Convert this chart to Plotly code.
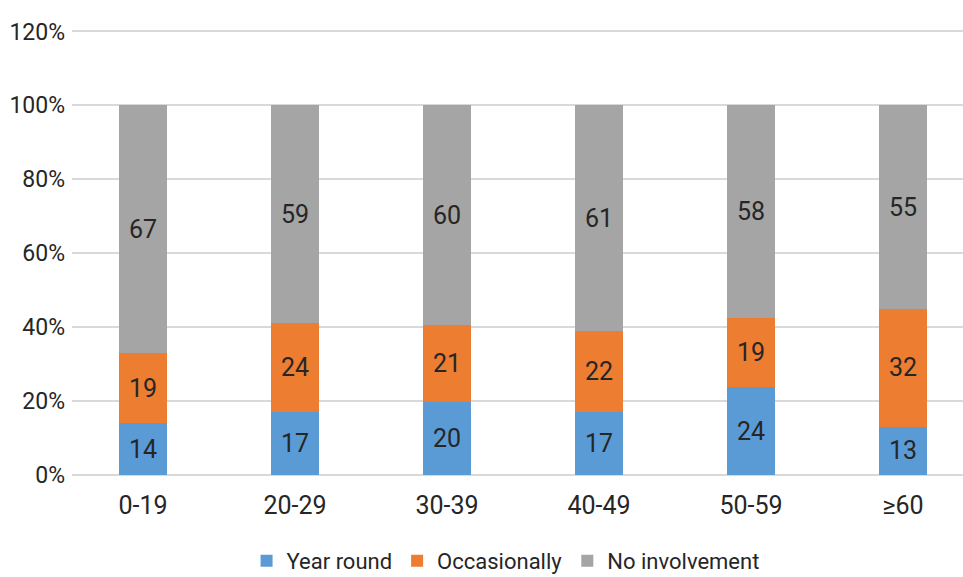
import plotly.graph_objects as go

# Age groups and share of respondents by involvement type
age_groups = ["0-19", "20-29", "30-39", "40-49", "50-59", "≥60"]
year_round = [14, 17, 20, 17, 24, 13]
occasionally = [19, 24, 21, 22, 19, 32]
no_involvement = [67, 59, 60, 61, 58, 55]
y_ticks = [0, 20, 40, 60, 80, 100, 120]

FONT = "Roboto, Liberation Sans, sans-serif"
TEXT = "#262626"
SIZE = 25

series = [
    ("Year round", year_round, "#5b9bd5"),
    ("Occasionally", occasionally, "#ed7d31"),
    ("No involvement", no_involvement, "#a5a5a5"),
]

fig = go.Figure()
for name, vals, color in series:
    fig.add_trace(go.Bar(
        name=name,
        x=age_groups,
        y=vals,
        text=[str(v) for v in vals],
        textposition="inside",
        insidetextanchor="middle",
        textangle=0,
        constraintext="none",
        textfont=dict(family=FONT, size=SIZE, color=TEXT),
        marker=dict(color=color, line=dict(width=0)),
        width=0.31,
    ))

fig.update_layout(
    barmode="stack",
    barnorm="percent",
    width=963,
    height=577,
    margin=dict(l=72, r=0, t=30, b=102),
    plot_bgcolor="white",
    paper_bgcolor="white",
    font=dict(family=FONT, size=SIZE, color=TEXT),
    showlegend=True,
    legend=dict(
        orientation="h",
        xref="container",
        yref="container",
        x=0.525,
        xanchor="center",
        y=0.028,
        yanchor="middle",
        font=dict(family=FONT, size=22, color=TEXT),
        itemwidth=30,
        traceorder="normal",
    ),
    uniformtext=dict(minsize=SIZE, mode="show"),
)

fig.update_xaxes(
    range=[-0.467, 5.395],
    showgrid=False,
    showline=False,
    ticks="",
    ticklabelstandoff=13,
    tickfont=dict(family=FONT, size=SIZE, color=TEXT),
)
fig.update_yaxes(
    range=[0, 120.4],
    tickvals=y_ticks,
    ticktext=[f"{v}%" for v in y_ticks],
    showgrid=True,
    gridcolor="#d9d9d9",
    gridwidth=1.5,
    zeroline=True,
    zerolinecolor="#d9d9d9",
    zerolinewidth=1.5,
    showline=False,
    ticks="",
    ticklabelstandoff=6,
    tickfont=dict(family=FONT, size=23, color=TEXT),
)

fig.write_html("out.html")
